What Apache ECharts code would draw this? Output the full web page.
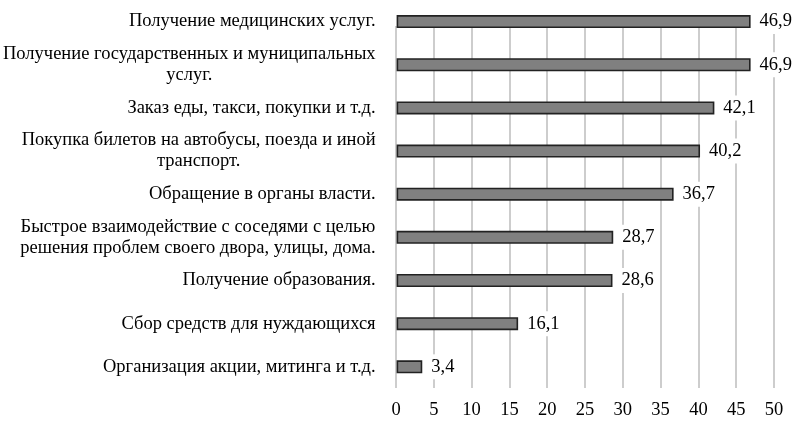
<!DOCTYPE html>
<html>
<head>
<meta charset="utf-8">
<script src="https://cdn.jsdelivr.net/npm/echarts@6/dist/echarts.min.js"></script>
<style>html,body{margin:0;padding:0;background:#fff}#c{width:800px;height:424px}</style>
</head>
<body>
<div id="c"></div>
<script>
const categories = [
  'Получение медицинских услуг.',
  'Получение государственных и муниципальных\nуслуг.',
  'Заказ еды, такси, покупки и т.д.',
  'Покупка билетов на автобусы, поезда и иной\nтранспорт.',
  'Обращение в органы власти.',
  'Быстрое взаимодействие с соседями с целью\nрешения проблем своего двора, улицы, дома.',
  'Получение образования.',
  'Сбор средств для нуждающихся',
  'Организация акции, митинга и т.д.'
];
const values = [46.9, 46.9, 42.1, 40.2, 36.7, 28.7, 28.6, 16.1, 3.4];
const xMin = 0, xMax = 50, xStep = 5;

const FONT = 'Liberation Serif';
const FS = 18.5;
const chart = echarts.init(document.getElementById('c'));
chart.setOption({
  animation: false,
  backgroundColor: '#fff',
  grid: [
    {left: 396, right: 26, top: -5.4, bottom: 35.6, containLabel: false},
    {left: 396, right: 26, top: 26, bottom: 36, containLabel: false}
  ],
  xAxis: [
    {gridIndex: 0, type: 'value', min: xMin, max: xMax, interval: xStep,
     axisLine: {show: false}, axisTick: {show: false}, axisLabel: {show: false}, splitLine: {show: false}},
    {gridIndex: 1, type: 'value', min: xMin, max: xMax, interval: xStep,
     axisLine: {show: false}, axisTick: {show: false},
     axisLabel: {fontFamily: FONT, fontSize: FS, color: '#000', margin: 13},
     splitLine: {show: true, lineStyle: {color: '#bdbdbd', width: 1.5}}}
  ],
  yAxis: [
    {gridIndex: 0, type: 'category', data: categories, inverse: true,
     axisLine: {show: false}, axisTick: {show: false},
     axisLabel: {
       margin: 21, align: 'right', fontFamily: FONT, fontSize: FS, color: '#000', lineHeight: 21,
       formatter: v => v.split('\n').map(s => '{c|' + s + '}').join('\n'),
       rich: {c: {align: 'center', fontFamily: FONT, fontSize: FS, color: '#000', lineHeight: 21}}
     }},
    {gridIndex: 1, type: 'category', data: [''], show: false}
  ],
  series: [{
    type: 'bar',
    xAxisIndex: 0, yAxisIndex: 0,
    data: values,
    barWidth: 13,
    z: 3,
    itemStyle: {color: '#808080', borderColor: '#222', borderWidth: 1.6},
    label: {
      show: true, position: 'right', distance: 7,
      fontFamily: FONT, fontSize: FS, color: '#000',
      backgroundColor: '#fff', padding: [3, 2, 3, 2],
      formatter: p => String(p.value).replace('.', ',')
    }
  }]
});
</script>
</body>
</html>
